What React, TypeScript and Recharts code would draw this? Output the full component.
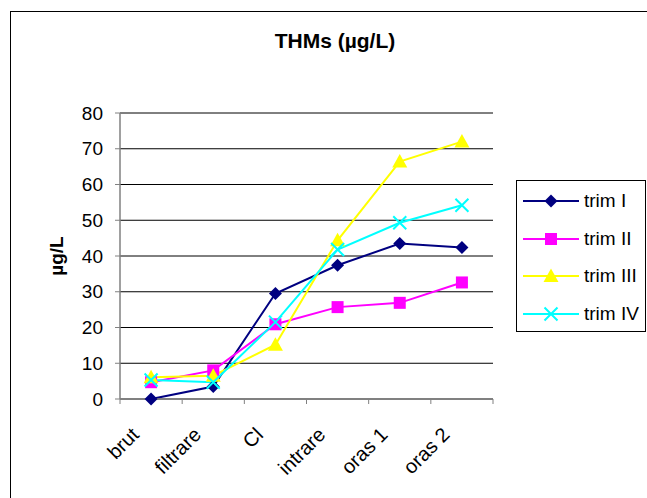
import React from 'react';
import { LineChart, Line, XAxis, YAxis, CartesianGrid, Legend } from 'recharts';

// sampling points along the treatment chain
const categories = ['brut', 'filtrare', 'Cl', 'intrare', 'oras 1', 'oras 2'];

// THMs (µg/L) per quarter
const trimI = [0, 3.5, 29.5, 37.4, 43.5, 42.4];
const trimII = [4.7, 8.0, 20.9, 25.7, 26.9, 32.6];
const trimIII = [6.1, 6.5, 15.2, 44.4, 66.4, 72.0];
const trimIV = [5.3, 4.7, 21.5, 41.8, 49.3, 54.2];

const seriesNames = ['trim I', 'trim II', 'trim III', 'trim IV'];
const seriesKeys = ['t1', 't2', 't3', 't4'];
const seriesColors = ['#000080', '#FF00FF', '#FFFF00', '#00FFFF'];
const markerKinds = ['diamond', 'square', 'triangle', 'cross'];

const yTicks = [0, 10, 20, 30, 40, 50, 60, 70, 80];

const data = categories.map((name, i) => ({
  name,
  t1: trimI[i],
  t2: trimII[i],
  t3: trimIII[i],
  t4: trimIV[i],
}));

const FONT = 'Arial, "Liberation Sans", sans-serif';
const AXIS_GREY = '#808080';

const Marker = ({ kind, cx, cy, color }: { kind: string; cx: number; cy: number; color: string }) => {
  if (kind === 'diamond') {
    return (
      <polygon
        points={`${cx},${cy - 6.5} ${cx + 6.5},${cy} ${cx},${cy + 6.5} ${cx - 6.5},${cy}`}
        fill={color}
      />
    );
  }
  if (kind === 'square') {
    return <rect x={cx - 6} y={cy - 6} width={12} height={12} fill={color} />;
  }
  if (kind === 'triangle') {
    return (
      <polygon points={`${cx},${cy - 7.5} ${cx + 7.5},${cy + 6} ${cx - 7.5},${cy + 6}`} fill={color} />
    );
  }
  return (
    <path
      d={`M${cx - 6.5},${cy - 6.5}L${cx + 6.5},${cy + 6.5}M${cx - 6.5},${cy + 6.5}L${cx + 6.5},${cy - 6.5}`}
      stroke={color}
      strokeWidth={2}
      fill="none"
    />
  );
};

// label rotated 45°, plus Excel-style tick marks on the category boundaries
const XTick = (props: any) => {
  const { x, y, payload, width, index, visibleTicksCount } = props;
  const half = width / visibleTicksCount / 2;
  const axisY = y - 5; // tickSize 5, tickMargin 0
  return (
    <g>
      <line x1={x - half} x2={x - half} y1={axisY} y2={axisY + 5} stroke={AXIS_GREY} />
      {index === visibleTicksCount - 1 && (
        <line x1={x + half} x2={x + half} y1={axisY} y2={axisY + 5} stroke={AXIS_GREY} />
      )}
      <g transform={`translate(${x - 11},${y + 32})`}>
        <text transform="rotate(-45)" textAnchor="end" fontSize={20} fontFamily={FONT} fill="#000">
          {payload.value}
        </text>
      </g>
    </g>
  );
};

const LegendBox = () => (
  <div
    style={{
      width: 130,
      height: 152,
      boxSizing: 'border-box',
      border: '1px solid #000',
      background: '#fff',
      paddingTop: 1,
    }}
  >
    {seriesNames.map((n, i) => (
      <div key={n} style={{ display: 'flex', alignItems: 'center', height: 37.7 }}>
        <svg width={66} height={20} style={{ display: 'block' }}>
          <line x1={6} x2={62} y1={10} y2={10} stroke={seriesColors[i]} strokeWidth={2} />
          <Marker kind={markerKinds[i]} cx={34} cy={10} color={seriesColors[i]} />
        </svg>
        <span style={{ fontFamily: FONT, fontSize: 19, color: '#000', marginLeft: 1 }}>{n}</span>
      </div>
    ))}
  </div>
);

export default function App() {
  return (
    <div
      style={{
        position: 'absolute',
        left: 0,
        top: 0,
        width: 647,
        height: 498,
        overflow: 'hidden',
        background: '#fff',
      }}
    >
      <div
        style={{
          position: 'absolute',
          left: 10,
          top: 11,
          width: 700,
          height: 600,
          border: '1px solid #000',
        }}
      />
      <div style={{ position: 'absolute', left: 0, top: 0, width: 647, height: 498 }}>
        <LineChart
          width={647}
          height={498}
          data={data}
          margin={{ top: 113, right: 154, bottom: 39, left: 0 }}
        >
          <CartesianGrid vertical={false} stroke="#000" strokeWidth={1} />
          <XAxis
            dataKey="name"
            scale="band"
            interval={0}
            height={60}
            tickLine={false}
            tickSize={5}
            tickMargin={0}
            axisLine={{ stroke: AXIS_GREY, strokeWidth: 1.5 }}
            tick={<XTick />}
          />
          {/* plot-area frame: top and right edges */}
          <XAxis
            xAxisId="frameTop"
            orientation="top"
            dataKey="name"
            scale="band"
            height={0}
            tick={false}
            tickLine={false}
            axisLine={{ stroke: AXIS_GREY, strokeWidth: 1.5 }}
          />
          <YAxis
            yAxisId="frameRight"
            orientation="right"
            width={0}
            domain={[0, 80]}
            tick={false}
            tickLine={false}
            axisLine={{ stroke: AXIS_GREY, strokeWidth: 1.5 }}
          />
          <YAxis
            width={120}
            domain={[0, 80]}
            ticks={yTicks}
            interval={0}
            tickSize={5}
            tickMargin={12}
            axisLine={{ stroke: AXIS_GREY, strokeWidth: 1.5 }}
            tickLine={{ stroke: AXIS_GREY }}
            tick={{ fill: '#000', fontSize: 19, fontFamily: FONT }}
            label={{
              value: 'µg/L',
              angle: -90,
              position: 'insideLeft',
              offset: 56,
              style: { textAnchor: 'middle', fontWeight: 'bold', fontSize: 19, fontFamily: FONT, fill: '#000' },
            }}
          />
          {seriesKeys.map((k, i) => (
            <Line
              key={k}
              type="linear"
              dataKey={k}
              name={seriesNames[i]}
              stroke={seriesColors[i]}
              strokeWidth={2}
              isAnimationActive={false}
              activeDot={false}
              dot={(p: any) => (
                <Marker
                  key={`${k}-${p.index}`}
                  kind={markerKinds[i]}
                  cx={p.cx}
                  cy={p.cy}
                  color={seriesColors[i]}
                />
              )}
            />
          ))}
          <Legend
            layout="horizontal"
            verticalAlign="middle"
            align="center"
            wrapperStyle={{ left: 516, top: 180, width: 130, height: 152 }}
            content={() => <LegendBox />}
          />
        </LineChart>
      </div>
      <div
        style={{
          position: 'absolute',
          left: 0,
          top: 29,
          width: 670,
          textAlign: 'center',
          fontFamily: FONT,
          fontWeight: 'bold',
          fontSize: 21,
          color: '#000',
        }}
      >
        THMs (µg/L)
      </div>
    </div>
  );
}
